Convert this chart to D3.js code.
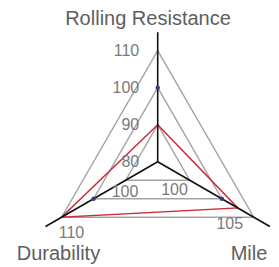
<!DOCTYPE html>
<html>
<head>
<meta charset="utf-8">
<script src="https://cdn.jsdelivr.net/npm/d3@7"></script>
<style>
  html, body { margin: 0; padding: 0; background: #fff; }
  svg { display: block; }
</style>
</head>
<body>
<svg id="chart" width="279" height="267"></svg>
<script>
// ---- data ----
const axisNames = ["Rolling Resistance", "Mile", "Durability"];
const axisDomains = [[80, 115], [90, 107.5], [80, 115]];   // value at centre .. value at axis end
const gridValues = [[90, 100, 110], [95, 100, 105], [90, 100, 110]];
const tickValues = [[110, 100, 90, 80], [100, 105], [100, 110]];
const tickLabels = [["110", "100", "90", "80"], ["100", "105"], ["100", "110"]];
const seriesValues = [90, 102.5, 110];
const baselineValues = [100, 100, 100];

// ---- layout ----
const cx = 157.7, cy = 161.7, axisLen = 129.5;
const angles = [0, 120, 240].map(d => d * Math.PI / 180);
const svg = d3.select("#chart");

const scales = axisDomains.map(dom => d3.scaleLinear().domain(dom).range([0, axisLen]));
function pt(i, v) {
  const r = scales[i](v);
  return [cx + r * Math.sin(angles[i]), cy - r * Math.cos(angles[i])];
}
const line = d3.line().curve(d3.curveLinearClosed);

// grid triangles
const gridG = svg.append("g");
gridValues[0].forEach((_, k) => {
  gridG.append("path")
    .attr("d", line(axisNames.map((_, i) => pt(i, gridValues[i][k]))))
    .attr("fill", "none").attr("stroke", "#a3a3a3").attr("stroke-width", 1.4);
});

// data series (red)
svg.append("path")
  .attr("d", line(axisNames.map((_, i) => pt(i, seriesValues[i]))))
  .attr("fill", "none").attr("stroke", "#cc2d3c").attr("stroke-width", 1.5);

// axes
axisNames.forEach((_, i) => {
  const [x2, y2] = pt(i, axisDomains[i][1]);
  svg.append("line")
    .attr("x1", cx).attr("y1", cy).attr("x2", x2).attr("y2", y2)
    .attr("stroke", "#111").attr("stroke-width", 1.6);
});

// baseline markers
svg.append("g").selectAll("circle")
  .data(baselineValues)
  .join("circle")
  .attr("cx", (v, i) => pt(i, v)[0])
  .attr("cy", (v, i) => pt(i, v)[1])
  .attr("r", 2.2)
  .attr("fill", "#3c3c6e");

// tick labels
const tickOffsets = [
  null, // top axis: right-aligned to the left of the axis
  [[-47.3, -9.2], [-24, 6.1]],
  [[31.4, -7.7], [9.9, 15.5]]
];
const tickG = svg.append("g")
  .attr("font-family", "'Liberation Sans', Arial, Helvetica, sans-serif")
  .attr("font-size", 16).attr("fill", "#7a7a7a");
tickValues.forEach((vals, i) => {
  vals.forEach((v, j) => {
    const [x, y] = pt(i, v);
    if (i === 0) {
      tickG.append("text").attr("x", cx - 18.5).attr("y", y + 5.3)
        .attr("text-anchor", "end").text(tickLabels[i][j]);
    } else {
      const [dx, dy] = tickOffsets[i][j];
      tickG.append("text").attr("x", x + dx).attr("y", y + dy + 5.5)
        .attr("text-anchor", "middle").text(tickLabels[i][j]);
    }
  });
});

// axis titles
const titleOffsets = [[-9.7, -7.7], [-20.8, 33.3], [12.9, 33.3]];
svg.append("g")
  .attr("font-family", "'Liberation Sans', Arial, Helvetica, sans-serif")
  .attr("font-size", 20).attr("fill", "#5e5e5e")
  .selectAll("text").data(axisNames).join("text")
  .attr("x", (d, i) => pt(i, axisDomains[i][1])[0] + titleOffsets[i][0])
  .attr("y", (d, i) => pt(i, axisDomains[i][1])[1] + titleOffsets[i][1])
  .attr("text-anchor", "middle")
  .text(d => d);
</script>
</body>
</html>
